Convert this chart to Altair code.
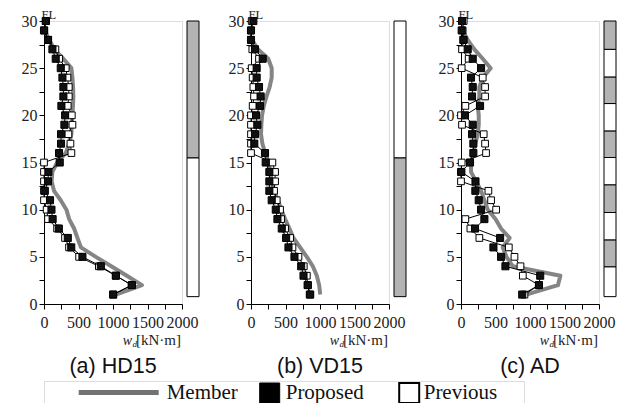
import altair as alt
import pandas as pd

# ---------------- data ----------------
floors = list(range(1, 31))
member_floors_hd = list(range(1, 30))
member_floors_vd = list(range(1, 29))
member_floors_ad = list(range(1, 30))

hd_proposed = [1003, 1274, 1042, 824, 557, 395, 345, 215, 125, 108, 87, 12, 58, 63, 228,
               218, 247, 247, 296, 306, 252, 281, 281, 267, 243, 170, 122, 59, 0, 25]
hd_previous = [1000, 1270, 1040, 795, 509, 363, 305, 190, 58, 38, 0, 0, 0, 0, 0,
               397, 383, 354, 412, 403, 344, 359, 359, 340, 315, 220, 165, 60, 5, 30]
hd_member = [1040, 1420, 1200, 975, 751, 535, 485, 436, 365, 325, 242, 145, 111, 121, 190,
             315, 365, 397, 402, 410, 420, 425, 421, 412, 397, 280, 150, 75, 10]

vd_proposed = [858, 824, 761, 727, 630, 543, 509, 446, 383, 359, 300, 266, 266, 266, 213,
               203, 48, 58, 92, 73, 131, 140, 116, 82, 82, 170, 58, 0, 0, 34]
vd_previous = [850, 820, 809, 765, 688, 601, 567, 494, 436, 421, 373, 334, 349, 349, 310,
               0, 0, 0, 0, 0, 24, 44, 34, 24, 10, 116, 19, 0, 0, 10]
vd_member = [1003, 988, 954, 896, 809, 712, 615, 557, 494, 440, 390, 335, 300, 280, 255,
             205, 165, 145, 150, 160, 185, 225, 270, 300, 300, 250, 100, 15]

ad_proposed = [887, 1129, 1148, 644, 581, 470, 567, 203, 339, 291, 257, 208, 210, 5, 131,
               179, 179, 160, 170, 58, 276, 160, 170, 145, 291, 170, 97, 34, 10, 15]
ad_previous = [920, 1130, 896, 862, 775, 693, 266, 136, 63, 509, 436, 397, 0, 0, 10,
               363, 349, 329, 15, 0, 63, 349, 349, 315, 10, 111, 15, 39, 24, 39]
ad_member = [945, 1405, 1440, 751, 660, 605, 705, 580, 500, 388, 339, 291, 218, 145, 145,
             179, 208, 242, 257, 257, 242, 266, 266, 315, 430, 315, 194, 97, 25]

hd_bar_edges = [0.78, 15.5, 30]
hd_bar_fill = ["white", "gray"]
vd_bar_edges = [0.78, 15.5, 30]
vd_bar_fill = ["gray", "white"]
ad_bar_edges = [0.78, 3.95, 6.8, 9.7, 12.64, 15.53, 18.35, 21.25, 24.07, 27.0, 30]
ad_bar_fill = ["white", "gray", "white", "gray", "white", "gray", "white", "gray", "white", "gray"]

panel_titles = ["(a) HD15", "(b) VD15", "(c) AD"]
x_ticks = [0, 250, 500, 750, 1000, 1250, 1500, 1750, 2000]
y_ticks = [0, 2.5, 5, 7.5, 10, 12.5, 15, 17.5, 20, 22.5, 25, 27.5, 30]
legend_labels = ["Member", "Proposed", "Previous"]
unit_parts = ["w", "d", "[kN·m]"]

# ---------------- style ----------------
W, H = 138, 283
SERIF = "Liberation Serif"
SANS = "Liberation Sans"
GRAY_LINE = "#858585"
GRAY_BAR = "#b3b3b3"

xscale = alt.Scale(domain=[0, 2000], nice=False, zero=False)
yscale = alt.Scale(domain=[0, 30], nice=False, zero=False)

xaxis = alt.Axis(values=x_ticks, format="d",
                 labelExpr="datum.value % 500 === 0 ? datum.label : ''",
                 title=None, grid=False, tickSize=5, labelFlush=False, labelOverlap=False,
                 labelFont=SERIF, labelFontSize=16, labelPadding=5, labelColor="#222",
                 domainColor="black", tickColor="black", domainWidth=1, tickWidth=1)
yaxis = alt.Axis(values=y_ticks, format="d",
                 labelExpr="datum.value % 5 === 0 ? datum.label : ''",
                 title="FL", titleAngle=0, titleX=-3, titleY=-2.5, titleAlign="left",
                 titleBaseline="alphabetic", titleFont=SERIF, titleFontSize=12.5,
                 titleFontWeight="normal", titleColor="#222",
                 grid=False, tickSize=5, labelFlush=False, labelOverlap=False,
                 labelFont=SERIF, labelFontSize=16, labelPadding=2, labelColor="#222",
                 domainColor="black", tickColor="black", domainWidth=1, tickWidth=1)


def make_panel(prop, prev, memb, memb_fl, edges, fills, title):
    d_prop = pd.DataFrame({"floor": floors, "w": prop})
    d_prev = pd.DataFrame({"floor": floors, "w": prev})
    d_memb = pd.DataFrame({"floor": memb_fl, "w": memb})
    d_bar = pd.DataFrame({"y0": edges[:-1], "y1": edges[1:], "f": fills})

    X = alt.X("w:Q", scale=xscale, axis=xaxis)
    Y = alt.Y("floor:Q", scale=yscale, axis=yaxis)

    member = alt.Chart(d_memb).mark_line(color=GRAY_LINE, strokeWidth=4, strokeJoin="round").encode(
        x=X, y=Y, order="floor:Q")
    prev_line = alt.Chart(d_prev).mark_line(color="black", strokeWidth=1).encode(
        x=X, y=Y, order="floor:Q")
    prev_pts = alt.Chart(d_prev).mark_square(size=45, fill="white", stroke="black",
                                             strokeWidth=1, opacity=1).encode(x=X, y=Y)
    prop_line = alt.Chart(d_prop).mark_line(color="black", strokeWidth=1).encode(
        x=X, y=Y, order="floor:Q")
    prop_pts = alt.Chart(d_prop).mark_square(size=50, color="#111", stroke="black",
                                             strokeWidth=1, opacity=1).encode(x=X, y=Y)
    bar = alt.Chart(d_bar).mark_rect(stroke="black", strokeWidth=1).encode(
        x=alt.value(143), x2=alt.value(155),
        y=alt.Y("y0:Q", scale=yscale, axis=yaxis), y2="y1:Q",
        fill=alt.Fill("f:N", scale=alt.Scale(domain=["gray", "white"], range=[GRAY_BAR, "#ffffff"]),
                      legend=None))

    tdf = pd.DataFrame({"t": unit_parts})
    t_w = alt.Chart(tdf).transform_filter(alt.datum.t == unit_parts[0]).mark_text(
        font=SERIF, fontSize=14, fontStyle="italic", align="right", baseline="alphabetic",
        color="#222").encode(text="t:N", x=alt.value(88), y=alt.value(H + 40.5))
    t_d = alt.Chart(tdf).transform_filter(alt.datum.t == unit_parts[1]).mark_text(
        font=SERIF, fontSize=9, fontStyle="italic", align="left", baseline="alphabetic",
        color="#222").encode(text="t:N", x=alt.value(88.5), y=alt.value(H + 43))
    t_u = alt.Chart(tdf).transform_filter(alt.datum.t == unit_parts[2]).mark_text(
        font=SERIF, fontSize=15, align="right", baseline="alphabetic",
        color="#222").encode(text="t:N", x=alt.value(137), y=alt.value(H + 40.5))

    return alt.layer(member, prev_line, prev_pts, prop_line, prop_pts, bar, t_w, t_d, t_u).properties(
        width=W, height=H,
        title=alt.TitleParams(title, orient="bottom", font=SANS, fontSize=21.5, fontWeight="normal",
                              color="#111", offset=6.5, anchor="middle", frame="group"))


p1 = make_panel(hd_proposed, hd_previous, hd_member, member_floors_hd, hd_bar_edges, hd_bar_fill, panel_titles[0])
p2 = make_panel(vd_proposed, vd_previous, vd_member, member_floors_vd, vd_bar_edges, vd_bar_fill, panel_titles[1])
p3 = make_panel(ad_proposed, ad_previous, ad_member, member_floors_ad, ad_bar_edges, ad_bar_fill, panel_titles[2])

row = alt.hconcat(alt.hconcat(p1, p2, spacing=27), p3, spacing=30)

# ---------------- legend ----------------
LX = -23.3
ldf = pd.DataFrame({"label": legend_labels})
lbase = alt.Chart(ldf)
leg_line = lbase.transform_filter(alt.datum.label == legend_labels[0]).mark_rule(
    color="#737373", strokeWidth=5).encode(x=alt.value(58 + LX), x2=alt.value(138 + LX), y=alt.value(11.5))
leg_sq_black = lbase.transform_filter(alt.datum.label == legend_labels[1]).mark_square(
    size=400, color="black", stroke="black", strokeWidth=1, opacity=1).encode(
    x=alt.value(249 + LX), y=alt.value(12))
leg_sq_white = lbase.transform_filter(alt.datum.label == legend_labels[2]).mark_square(
    size=400, fill="white", stroke="black", strokeWidth=2, opacity=1).encode(
    x=alt.value(388.5 + LX), y=alt.value(12))
leg_texts = []
for lab, xpos in zip(legend_labels, [146, 265, 403]):
    leg_texts.append(lbase.transform_filter(alt.datum.label == lab).mark_text(
        font=SERIF, fontSize=21, align="left", baseline="alphabetic", color="#111").encode(
        text="label:N", x=alt.value(xpos + LX), y=alt.value(18)))
legend = alt.layer(leg_line, leg_sq_black, leg_sq_white, *leg_texts).properties(width=480, height=24)

chart = alt.vconcat(row, legend, spacing=0).properties(
    padding={"left": 12, "top": 0, "right": 0, "bottom": 0}
).configure_view(stroke=None).configure_axis(
    labelFont=SERIF, titleFont=SERIF
).configure(background="white")

chart.save("out.html", embed_options={"renderer": "svg", "actions": False})
